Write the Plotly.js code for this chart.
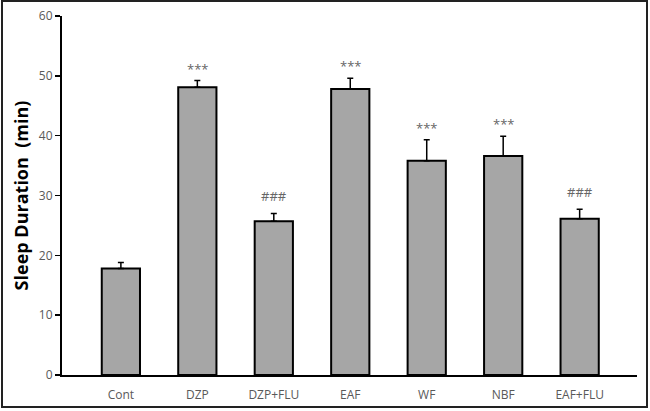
<!DOCTYPE html>
<html><head><meta charset="utf-8">
<script src="https://cdn.plot.ly/plotly-3.0.1.min.js"></script>
<style>html,body{margin:0;padding:0;background:#fff;}#chart{width:650px;height:411px;}</style>
</head><body><div id="chart"></div>
<script>
var categories = ["Cont", "DZP", "DZP+FLU", "EAF", "WF", "NBF", "EAF+FLU"];
var sleepDuration = [17.8, 48.1, 25.7, 47.8, 35.8, 36.6, 26.1];
var errorPlus = [1.0, 1.1, 1.3, 1.8, 3.5, 3.3, 1.6];
var markLabels = ["", "***", "###", "***", "***", "***", "###"];
var yTicks = [0, 10, 20, 30, 40, 50, 60];

var trace = {
  type: "bar",
  x: categories.map(function(c, i){ return i; }),
  y: sleepDuration,
  width: 0.5,
  marker: {color: "#a6a6a6", line: {color: "#000", width: 2}},
  error_y: {type: "data", symmetric: false, array: errorPlus, arrayminus: sleepDuration.map(function(){return 0;}),
            color: "#000", thickness: 1.5, width: 3},
  hoverinfo: "none"
};

var annotations = [];
markLabels.forEach(function(t, i){
  if (!t) return;
  annotations.push({x: i, y: sleepDuration[i] + errorPlus[i], xref: "x", yref: "y", text: t,
    showarrow: false, yanchor: "middle", yshift: (t === "***" ? 12 : 17),
    font: {family: "Open Sans, sans-serif", size: 13, color: "#666666"}});
});

var L = 62, W = 575, T = 16, H = 359;
function px2x(p){ return (p - L) / W; }
function py2y(p){ return 1 - (p - T) / H; }

var layout = {
  width: 650, height: 411,
  margin: {l: L, r: 650 - L - W, t: T, b: 411 - T - H},
  paper_bgcolor: "#fff", plot_bgcolor: "#fff",
  showlegend: false,
  bargap: 0,
  font: {family: "Open Sans, sans-serif", color: "#595959", size: 11},
  xaxis: {
    range: [-0.77, 6.75], tickmode: "array", tickvals: categories.map(function(c,i){return i;}), ticktext: categories,
    showline: true, linecolor: "#000", linewidth: 2, ticks: "", showgrid: false, zeroline: false,
    ticklabelstandoff: 8,
    tickfont: {size: 12, color: "#595959"}, fixedrange: true
  },
  yaxis: {
    range: [0, 60], tickmode: "array", tickvals: yTicks, ticks: "outside", ticklen: 5, tickwidth: 1.5, tickcolor: "#000",
    showline: true, linecolor: "#000", linewidth: 2, showgrid: false, zeroline: false,
    tickfont: {size: 12, color: "#595959"},
    title: {text: "Sleep Duration  (min)", standoff: 6, font: {family: "Open Sans, sans-serif", size: 18, color: "#000", weight: "bold"}},
    fixedrange: true
  },
  annotations: annotations,
  shapes: [{type: "rect", xref: "paper", yref: "paper", x0: px2x(2), x1: px2x(647), y0: py2y(407), y1: py2y(1),
            line: {color: "#222", width: 2}, fillcolor: "rgba(0,0,0,0)", layer: "above"}]
};

Plotly.newPlot("chart", [trace], layout, {displayModeBar: false, staticPlot: true});
</script></body></html>
